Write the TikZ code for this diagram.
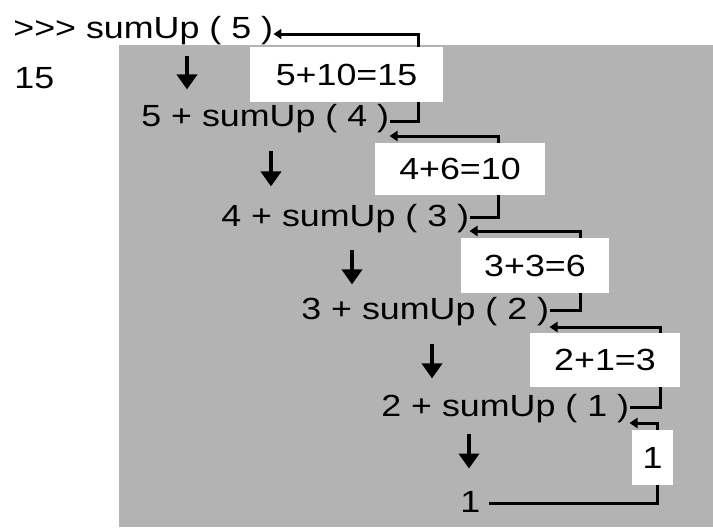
\documentclass[tikz,border=0pt]{standalone}
\usepackage{fontspec}
\newfontfamily\widesans[FakeStretch=1.17]{Liberation Sans}
\usetikzlibrary{arrows.meta}
\definecolor{stack}{RGB}{179,179,179}

\begin{document}
\begin{tikzpicture}[
    x=0.5pt,y=-0.5pt,
    expr/.style={font={\widesans\fontsize{15.3pt}{18pt}\selectfont},
        inner sep=0pt,anchor=base west},
    calc/.style={fill=white,inner sep=0pt,
        font={\widesans\fontsize{15.3pt}{18pt}\selectfont}},
    down/.style={-{Triangle[width=10pt,length=7.5pt]},line width=2.2pt},
    ret/.style={-{Triangle[width=5pt,length=4pt]},line width=1.5pt},
    link/.style={line width=1.5pt},
    ]

    % Page and call stack
    \fill[white] (0,0) rectangle (713,527);
    \useasboundingbox (0,0) rectangle (713,527);
    \fill[stack] (119,45) rectangle (713,527);

    % Calls
    \node[expr] (l1) at (13,38) {>>> sumUp ( 5 )};
    \node[expr] (res) at (14,88) {15};
    \node[expr] (l2) at (141,126) {5 + sumUp ( 4 )};
    \node[expr] (l3) at (221,226) {4 + sumUp ( 3 )};
    \node[expr] (l4) at (301,319) {3 + sumUp ( 2 )};
    \node[expr] (l5) at (381,416) {2 + sumUp ( 1 )};
    \node[expr] (l6) at (460,512) {1};

    % Partial sums
    \node[calc,minimum width=96.5pt,minimum height=27.5pt] (b1) at (346.5,74.5) {5+10=15};
    \node[calc,minimum width=85pt,minimum height=26pt] (b2) at (460,169) {4+6=10};
    \node[calc,minimum width=74pt,minimum height=27.5pt] (b3) at (535,265.5) {3+3=6};
    \node[calc,minimum width=75pt,minimum height=27pt] (b4) at (605,360) {2+1=3};
    \node[calc,minimum width=20.5pt,minimum height=27.5pt] (b5) at (652.5,457.5) {1};

    % Going down
    \draw[down,shorten <=5.5pt,shorten >=7pt] (l1.south -| 187,0) -- (l2.north -| 187,0);
    \draw[down,shorten <=9pt,shorten >=8.5pt] (l2.south -| 271,0) -- (l3.north -| 271,0);
    \draw[down,shorten <=8.5pt,shorten >=6pt] (l3.south -| 352,0) -- (l4.north -| 352,0);
    \draw[down,shorten <=9pt,shorten >=7.5pt] (l4.south -| 432,0) -- (l5.north -| 432,0);
    \draw[down,shorten <=5.5pt,shorten >=11pt] (l5.south -| 469,0) -- (l6.north -| 469,0);

    % Coming back up
    \draw[ret] (b1.north -| 418,0) |- (l1.east |- 0,34);
    \draw[link] (b1.south -| 418,0) |- (l2.east |- 0,121);
    \draw[ret] (b2.north -| 498,0) |- (l2.east |- 0,136);
    \draw[link] (b2.south -| 498,0) |- (l3.east |- 0,217);
    \draw[ret] (b3.north -| 580,0) |- (l3.east |- 0,231);
    \draw[link] (b3.south -| 580,0) |- (l4.east |- 0,310);
    \draw[ret] (b4.north -| 660,0) |- (l4.east |- 0,327);
    \draw[link] (b4.south -| 660,0) |- (l5.east |- 0,407);
    \draw[ret] (b5.north -| 657,0) |- (l5.east |- 0,423);
    \draw[link,shorten >=4pt] (b5.south -| 657,0) |- (l6.east |- 0,503);
\end{tikzpicture}
\end{document}
